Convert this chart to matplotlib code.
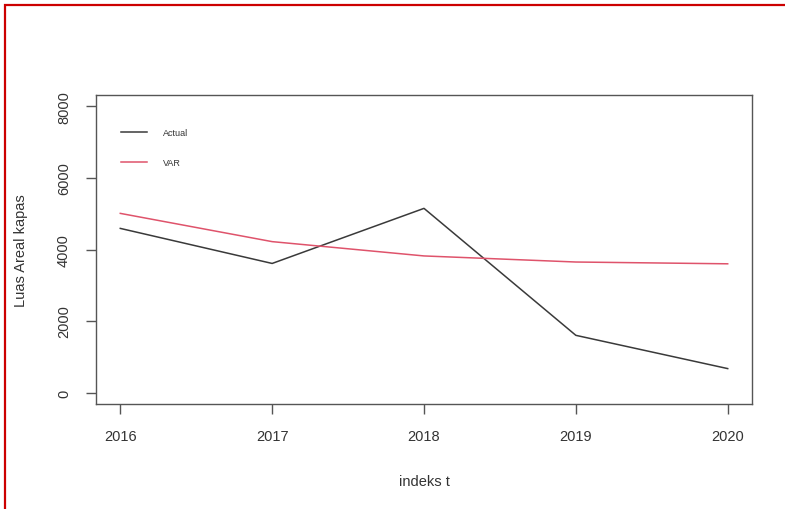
import matplotlib
matplotlib.use("Agg")
import matplotlib.pyplot as plt
from matplotlib.patches import Rectangle

years = [2016, 2017, 2018, 2019, 2020]
actual = [4590, 3610, 5150, 1600, 670]
var_fc = [5010, 4220, 3820, 3650, 3600]
y_ticks = [0, 2000, 4000, 6000, 8000]

plt.rcParams["font.family"] = ["Liberation Sans", "DejaVu Sans"]

fig = plt.figure(figsize=(7.85, 5.10), dpi=100)
ax = fig.add_axes([96 / 785, 1 - 405 / 510, 656 / 785, 309 / 510])

ax.plot(years, actual, color="#3a3a3a", lw=1.1, label="Actual")
ax.plot(years, var_fc, color="#DF536B", lw=1.1, label="VAR")

ax.set_xlim(2016 - 0.16, 2020 + 0.16)
ax.set_ylim(-320, 8320)
ax.set_xticks(years)
ax.set_xticklabels([str(y) for y in years])
ax.set_yticks(y_ticks)
ax.set_yticklabels([str(v) for v in y_ticks], rotation=90, va="center")

for s in ax.spines.values():
    s.set_color("#555555")
    s.set_linewidth(1.0)

ax.tick_params(axis="both", colors="#555555", labelcolor="#333333",
               labelsize=10.5, length=7, width=1.0)
ax.tick_params(axis="x", pad=11)
ax.tick_params(axis="y", pad=11)

ax.set_xlabel("indeks t", fontsize=10.5, color="#333333")
ax.xaxis.label.set_verticalalignment("center")
ax.xaxis.set_label_coords(0.5, (405 - 482) / 309)

ax.set_ylabel("Luas Areal kapas", fontsize=10.5, color="#333333")
ax.yaxis.label.set_verticalalignment("center")
ax.yaxis.set_label_coords((21 - 96) / 656, 0.5)

leg = ax.legend(loc="upper left", bbox_to_anchor=((121 - 96) / 656, (405 - 129) / 309),
                frameon=False, fontsize=6.5, handlelength=2.9, handletextpad=1.7,
                labelspacing=2.3, borderpad=0, borderaxespad=0)
for t in leg.get_texts():
    t.set_color("#333333")

# red frame around the figure
fig.patches.append(Rectangle((5 / 785, -0.1), 1.2, 1 - 6 / 510 + 0.1,
                             transform=fig.transFigure, fill=False,
                             edgecolor="#CC0000", linewidth=1.6))

fig.savefig("out.png", dpi=100)
